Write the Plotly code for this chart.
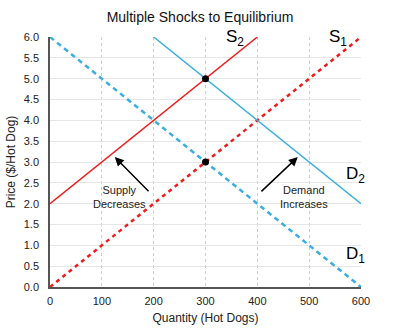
import plotly.graph_objects as go

# Data
s1_x = [0, 600]; s1_y = [0, 6]
s2_x = [0, 400]; s2_y = [2, 6]
d1_x = [0, 600]; d1_y = [6, 0]
d2_x = [200, 600]; d2_y = [6, 2]
eq_x = [300, 300]; eq_y = [5, 3]
x_ticks = [0, 100, 200, 300, 400, 500, 600]
y_ticks = [i * 0.5 for i in range(13)]

RED = "#ee1c1c"
BLUE = "#3aaee0"
FONT = "Liberation Sans, Arial, sans-serif"

fig = go.Figure()
fig.add_trace(go.Scatter(x=s1_x, y=s1_y, mode="lines", line=dict(color=RED, width=2.5, dash="4px,4px")))
fig.add_trace(go.Scatter(x=d1_x, y=d1_y, mode="lines", line=dict(color=BLUE, width=2.5, dash="5px,4px")))
fig.add_trace(go.Scatter(x=s2_x, y=s2_y, mode="lines", line=dict(color=RED, width=1.5)))
fig.add_trace(go.Scatter(x=d2_x, y=d2_y, mode="lines", line=dict(color=BLUE, width=1.5)))
fig.add_trace(go.Scatter(x=eq_x, y=eq_y, mode="markers", marker=dict(color="black", size=7, symbol="circle")))

labels = [("S<sub>2</sub>", 357, 5.97), ("S<sub>1</sub>", 556, 5.97),
          ("D<sub>2</sub>", 590, 2.69), ("D<sub>1</sub>", 590, 0.77)]
for t, x, y in labels:
    fig.add_annotation(x=x, y=y, text=t, showarrow=False, font=dict(size=17, color="black", family=FONT))

fig.add_annotation(x=135, y=2.16, text="Supply<br>Decreases", showarrow=False,
                   font=dict(size=11, color="#222", family=FONT))
fig.add_annotation(x=490, y=2.16, text="Demand<br>Increases", showarrow=False,
                   font=dict(size=11, color="#222", family=FONT))
fig.add_annotation(x=125, y=3.12, ax=193, ay=2.26, axref="x", ayref="y", xref="x", yref="y",
                   text="", showarrow=True, arrowhead=2, arrowsize=1.2, arrowwidth=1.5, arrowcolor="black")
fig.add_annotation(x=478, y=3.12, ax=405, ay=2.26, axref="x", ayref="y", xref="x", yref="y",
                   text="", showarrow=True, arrowhead=2, arrowsize=1.2, arrowwidth=1.5, arrowcolor="black")

fig.update_layout(
    width=400, height=332,
    margin=dict(l=50, r=39, t=37, b=45),
    paper_bgcolor="white", plot_bgcolor="white",
    showlegend=False,
    font=dict(family=FONT, color="#222", size=11),
    title=dict(text="Multiple Shocks to Equilibrium", x=0.5, xanchor="center", y=0.948, yanchor="middle",
               font=dict(size=14, color="#111", family=FONT)),
    xaxis=dict(range=[0, 600], tickvals=x_ticks, ticktext=[str(v) for v in x_ticks],
               showgrid=True, gridcolor="#cccccc", griddash="dot", gridwidth=1,
               showline=True, linecolor="#555", linewidth=1.5, zeroline=False, automargin=False,
               title=dict(text="Quantity (Hot Dogs)", font=dict(size=12), standoff=8),
               tickfont=dict(size=11), ticks="outside", ticklen=3, tickcolor="rgba(0,0,0,0)"),
    yaxis=dict(range=[0, 6], tickvals=y_ticks, ticktext=[f"{v:.1f}" for v in y_ticks],
               showgrid=True, gridcolor="#e6e6e6", gridwidth=1,
               showline=True, linecolor="#555", linewidth=1.5, zeroline=False, automargin=False,
               title=dict(text="Price ($/Hot Dog)", font=dict(size=12), standoff=6),
               tickfont=dict(size=11), ticks="outside", ticklen=7, tickcolor="rgba(0,0,0,0)"),
)
fig.write_html("out.html")
